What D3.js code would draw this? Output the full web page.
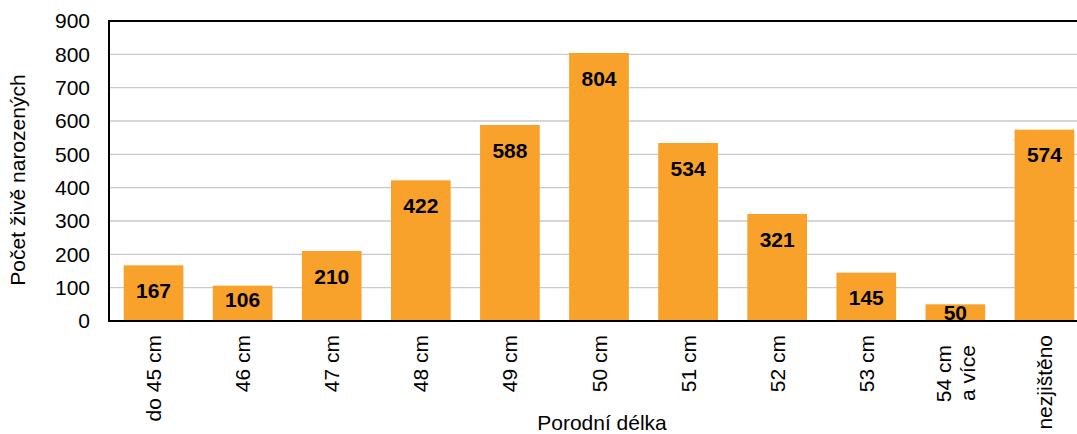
<!DOCTYPE html>
<html><head><meta charset="utf-8">
<script src="https://cdn.jsdelivr.net/npm/d3@7"></script>
<style>body{margin:0;background:#fff}svg{display:block;font-family:"Liberation Sans",Arial,sans-serif}</style>
</head><body><svg id="c" width="1077" height="434"></svg>
<script>
const categories = [["do 45 cm"],["46 cm"],["47 cm"],["48 cm"],["49 cm"],["50 cm"],["51 cm"],["52 cm"],["53 cm"],["54 cm","a více"],["nezjištěno"]];
const values = [167,106,210,422,588,804,534,321,145,50,574];
const yTicks = [0,100,200,300,400,500,600,700,800,900];
const yTitle = "Počet živě narozených";
const xTitle = "Porodní délka";

const svg = d3.select("#c");
const L = 109, T = 21, B = 321, R = 1089;
const ids = categories.map((c,i)=>i);
const x = d3.scaleBand().domain(ids).range([L,R]).paddingInner(0.33).paddingOuter(0.165);
const y = d3.scaleLinear().domain([0,900]).range([B,T]);

// gridlines
svg.append("g").selectAll("line").data(yTicks.filter(t=>t>0&&t<900)).join("line")
  .attr("x1",L).attr("x2",R).attr("y1",d=>y(d)).attr("y2",d=>y(d))
  .attr("stroke","#c9c9c9").attr("stroke-width",1.3);

// bars
svg.append("g").selectAll("rect").data(values).join("rect")
  .attr("x",(d,i)=>x(i)).attr("width",x.bandwidth())
  .attr("y",d=>y(d)).attr("height",d=>B-y(d))
  .attr("fill","#F8A22B");

// data labels
svg.append("g").selectAll("text").data(values).join("text")
  .attr("x",(d,i)=>x(i)+x.bandwidth()/2)
  .attr("y",d=>{const h=B-y(d); const off = h>40?17.5:(h>25?6:1); return y(d)+off+15;})
  .attr("text-anchor","middle").attr("font-weight","bold").attr("font-size",21).attr("fill","#000")
  .text(d=>d);

// border
svg.append("rect").attr("x",L).attr("y",T).attr("width",R-L).attr("height",B-T)
  .attr("fill","none").attr("stroke","#000").attr("stroke-width",2);

// y axis
const yAxis = d3.axisLeft(y).tickValues(yTicks).tickSize(0).tickPadding(19);
const gy = svg.append("g").attr("transform",`translate(${L},0)`).call(yAxis);
gy.select(".domain").remove();
gy.selectAll("text").attr("font-size",21).attr("font-family","Liberation Sans, Arial, sans-serif").attr("fill","#000");

// x labels
const xl = svg.append("g");
categories.forEach((lines,i)=>{
  const cx = x(i)+x.bandwidth()/2;
  const n = lines.length;
  lines.forEach((t,j)=>{
    const off = (j-(n-1)/2)*24;
    const ty = n>1?345:335;
    xl.append("text").attr("transform",`translate(${cx+off+7.5},${ty}) rotate(-90)`)
      .attr("text-anchor","end").attr("font-size",21).attr("fill","#000").text(t);
  });
});

// titles
svg.append("text").attr("transform","translate(25,180) rotate(-90)").attr("text-anchor","middle")
  .attr("font-size",21).attr("fill","#000").text(yTitle);
svg.append("text").attr("x",602).attr("y",430).attr("text-anchor","middle")
  .attr("font-size",21).attr("fill","#000").text(xTitle);
</script></body></html>
